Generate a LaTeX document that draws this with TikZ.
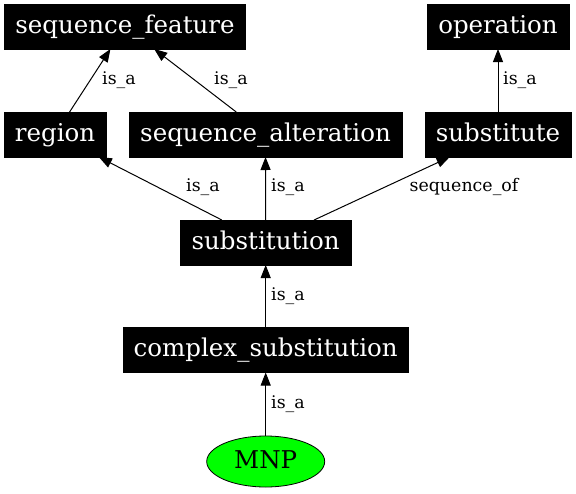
\documentclass[tikz,border=0pt]{standalone}
\usepackage{fontspec}
\usepackage{tikz}
\usetikzlibrary{arrows.meta}
\usetikzlibrary{shapes.geometric}
\newfontfamily\dvserif{DejaVu Serif}
\definecolor{mnpgreen}{RGB}{0,255,0}
\tikzset{term/.style = {rectangle, fill=black, draw=black, text=white, inner xsep=11pt, inner ysep=0pt, text height=18pt, text depth=4.5pt, minimum height=45pt, outer sep=0pt, font=\dvserif\fontsize{24.5}{28}\selectfont}}
\tikzset{leaf/.style = {ellipse, fill=mnpgreen, draw=black, line width=0.8pt, text height=18pt, text depth=4.5pt, minimum width=118pt, minimum height=51pt, inner sep=0pt, outer sep=0pt, font=\dvserif\fontsize{24.5}{28}\selectfont}}
\tikzset{lbl/.style = {inner sep=0pt, font=\dvserif\fontsize{17.4}{20}\selectfont}}
\tikzset{arr/.style = {line width=1pt, -{Triangle[length=13pt,width=10pt]}}}

\begin{document}
\begin{tikzpicture}[x=1pt,y=-1pt]
        \useasboundingbox (0,0) rectangle (576,493);
        \node[term] (seqfeature) at (125,26.5) {sequence\_feature};
        \node[term] (operation) at (498,26.5) {operation};
        \node[term] (region) at (55,134.5) {region};
        \node[term] (seqalteration) at (265.5,134.5) {sequence\_alteration};
        \node[term] (substitute) at (498,134.5) {substitute};
        \node[term] (substitution) at (265.7,242.5) {substitution};
        \node[term] (complexsub) at (265.7,350) {complex\_substitution};
        \node[leaf] (mnp) at (265.7,461.5) {MNP};
        \draw [arr] (region)--(seqfeature) node [lbl] at (119,80) {is\_a};
        \draw [arr] (seqalteration)--(seqfeature) node [lbl] at (231,80) {is\_a};
        \draw [arr] (substitute)--(operation) node [lbl] at (520,80) {is\_a};
        \draw [arr] (substitution)--(region) node [lbl] at (203,187) {is\_a};
        \draw [arr] (substitution)--(seqalteration) node [lbl] at (288,187) {is\_a};
        \draw [arr] (substitution)--(substitute) node [lbl] at (464,187) {sequence\_of};
        \draw [arr] (complexsub)--(substitution) node [lbl] at (288,296) {is\_a};
        \draw [arr] (mnp)--(complexsub) node [lbl] at (288,404) {is\_a};
    \end{tikzpicture}
\end{document}
